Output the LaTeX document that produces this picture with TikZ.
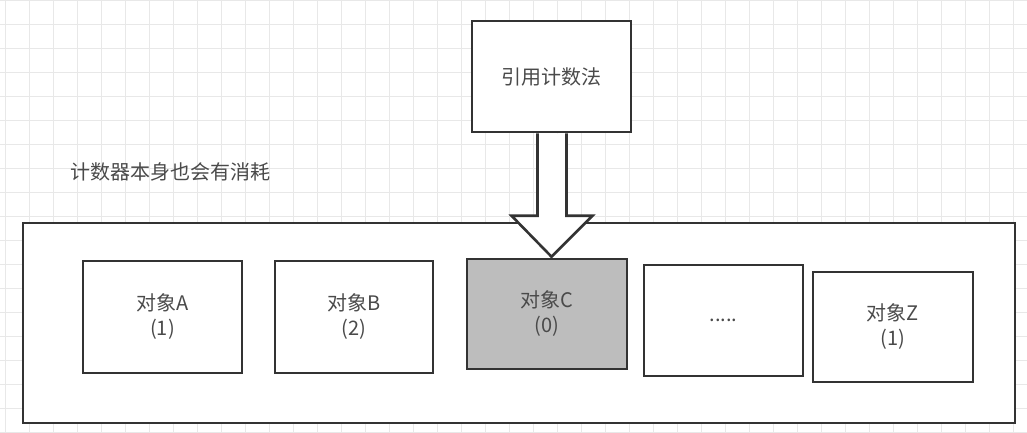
\documentclass[tikz,border=0pt]{standalone}
\usepackage{fontspec}
\newfontfamily\cjk{Noto Sans CJK SC}
\usetikzlibrary{calc}
\definecolor{gridc}{HTML}{E8E8E8}
\definecolor{linec}{HTML}{333333}
\definecolor{textc}{HTML}{4A4A4A}
\definecolor{fillc}{HTML}{BDBDBD}
\begin{document}
\begin{tikzpicture}[x=1pt,y=-1pt,
  box/.style={draw=linec,line width=2.6pt,fill=white,rectangle,inner sep=0pt,
    font=\cjk\fontsize{20}{25}\selectfont,text=textc,align=center},
  label/.style={font=\cjk\fontsize{20}{25}\selectfont,text=textc,inner sep=0pt},
  gridline/.style={draw=gridc,line width=0.9pt}]
\useasboundingbox (0,0) rectangle (1027,432);
\fill[white] (0,0) rectangle (1027,432);
\foreach \gx in {5,29,...,1025} \draw[gridline] (\gx,0) -- (\gx,432);
\foreach \gy in {0,24,...,432} \draw[gridline] (0,\gy) -- (1027,\gy);

\node[box,minimum width=992pt,minimum height=200pt] (cont) at (519,323) {};
\node[box,minimum width=159pt,minimum height=111pt] (top) at (551.5,76.5) {引用计数法};
\node[label] (note) at (170,172) {计数器本身也会有消耗};

\node[box,minimum width=159pt,minimum height=112pt] (A) at (162.5,317) {对象A\\(1)};
\node[box,minimum width=158pt,minimum height=112pt] (B) at (354,317) {对象B\\(2)};
\node[box,fill=fillc,minimum width=160pt,minimum height=110pt] (C) at (547,314) {对象C\\(0)};
\node[box,minimum width=159pt,minimum height=111pt] (D) at (723.5,320.5) {.....};
\node[box,minimum width=160pt,minimum height=110pt] (Z) at (893,327) {对象Z\\(1)};

\coordinate (tip) at ($(top.south |- C.north)+(0,-1)$);
\draw[draw=linec,line width=2.6pt,fill=white,line join=miter]
  ($(top.south)+(-14,0)$) -- ($(tip)+(-14,-41)$) -- ($(tip)+(-40,-41)$)
  -- (tip) -- ($(tip)+(41,-41)$) -- ($(tip)+(15,-41)$)
  -- ($(top.south)+(15,0)$);
\end{tikzpicture}
\end{document}
